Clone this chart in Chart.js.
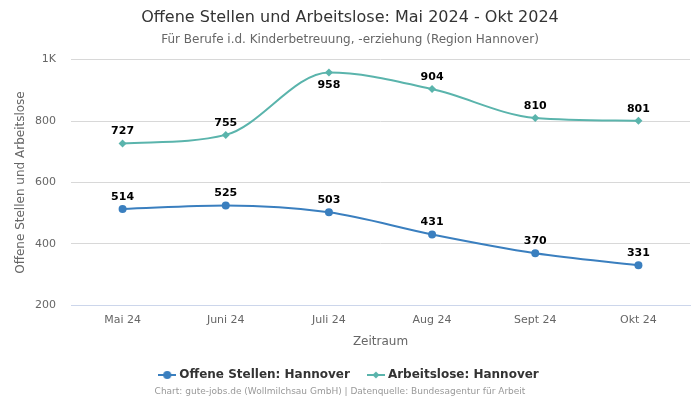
<!DOCTYPE html>
<html>
<head>
<meta charset="utf-8">
<script src="https://cdn.jsdelivr.net/npm/chart.js@4"></script>
<style>
  html, body { margin: 0; padding: 0; background: #fff; }
  #wrap { width: 700px; height: 400px; }
</style>
</head>
<body>
<div id="wrap"><canvas id="chart" width="700" height="400"></canvas></div>
<script>
const months = ['Mai 24', 'Juni 24', 'Juli 24', 'Aug 24', 'Sept 24', 'Okt 24'];
const offeneStellen = [514, 525, 503, 431, 370, 331];
const arbeitslose = [727, 755, 958, 904, 810, 801];
const yTicks = [200, 400, 600, 800, 1000];

const BLUE = '#3a7fbf';
const TEAL = '#5ab4ac';
const FONT = "'DejaVu Sans', sans-serif";

// small legend symbol: line with marker
function legendIcon(color, shape) {
  const c = document.createElement('canvas');
  c.width = 18; c.height = 10;
  const ctx = c.getContext('2d');
  ctx.strokeStyle = color;
  ctx.fillStyle = color;
  ctx.lineWidth = 2;
  ctx.beginPath();
  ctx.moveTo(0, 5); ctx.lineTo(18, 5);
  ctx.stroke();
  ctx.beginPath();
  if (shape === 'circle') {
    ctx.arc(9, 5, 4, 0, Math.PI * 2);
  } else {
    ctx.moveTo(9, 1.5); ctx.lineTo(12.5, 5); ctx.lineTo(9, 8.5); ctx.lineTo(5.5, 5);
    ctx.closePath();
  }
  ctx.fill();
  return c;
}

// value labels above points (below if there is no room at the top)
const valueLabels = {
  id: 'valueLabels',
  afterDatasetsDraw(chart) {
    const ctx = chart.ctx;
    ctx.save();
    ctx.font = 'bold 11px ' + FONT;
    ctx.fillStyle = '#000';
    ctx.textAlign = 'center';
    ctx.textBaseline = 'middle';
    chart.data.datasets.forEach((ds, i) => {
      chart.getDatasetMeta(i).data.forEach((pt, j) => {
        let y = pt.y - 12;
        if (pt.y - 20 < chart.chartArea.top) y = pt.y + 13;
        ctx.fillText(ds.data[j], pt.x, y);
      });
    });
    ctx.restore();
  }
};

const credit = {
  id: 'credit',
  afterDraw(chart) {
    const ctx = chart.ctx;
    ctx.save();
    ctx.font = '9px ' + FONT;
    ctx.fillStyle = '#999';
    ctx.textAlign = 'center';
    ctx.textBaseline = 'middle';
    ctx.fillText('Chart: gute-jobs.de (Wollmilchsau GmbH) | Datenquelle: Bundesagentur für Arbeit', 340, 392);
    ctx.restore();
  }
};

new Chart(document.getElementById('chart'), {
  type: 'line',
  data: {
    labels: months,
    datasets: [
      {
        label: 'Offene Stellen: Hannover',
        data: offeneStellen,
        borderColor: BLUE,
        backgroundColor: BLUE,
        borderWidth: 2,
        pointStyle: 'circle',
        pointRadius: 4,
        pointBorderWidth: 0,
        pointHoverRadius: 4,
        cubicInterpolationMode: 'monotone',
        legendIcon: legendIcon(BLUE, 'circle')
      },
      {
        label: 'Arbeitslose: Hannover',
        data: arbeitslose,
        borderColor: TEAL,
        backgroundColor: TEAL,
        borderWidth: 2,
        pointStyle: 'rectRot',
        pointRadius: 4,
        pointBorderWidth: 0,
        pointHoverRadius: 4,
        cubicInterpolationMode: 'monotone',
        legendIcon: legendIcon(TEAL, 'diamond')
      }
    ]
  },
  options: {
    responsive: false,
    animation: false,
    layout: { padding: { left: 10, right: 10, top: 0, bottom: 9 } },
    plugins: {
      title: {
        display: true,
        text: 'Offene Stellen und Arbeitslose: Mai 2024 - Okt 2024',
        color: '#333',
        font: { family: FONT, size: 16, weight: 'normal' },
        padding: { top: 8, bottom: 5 }
      },
      subtitle: {
        display: true,
        text: 'Für Berufe i.d. Kinderbetreuung, -erziehung (Region Hannover)',
        color: '#666',
        font: { family: FONT, size: 12 },
        padding: { bottom: 13 }
      },
      legend: {
        position: 'bottom',
        labels: {
          color: '#333',
          font: { family: FONT, size: 12, weight: 'bold' },
          usePointStyle: true,
          padding: 20,
          generateLabels(chart) {
            return chart.data.datasets.map((ds, i) => ({
              text: ds.label,
              pointStyle: ds.legendIcon,
              fontColor: '#333',
              datasetIndex: i,
              hidden: false,
              lineWidth: 0
            }));
          }
        }
      },
      tooltip: { enabled: false }
    },
    scales: {
      x: {
        offset: true,
        grid: { display: false, drawTicks: false },
        border: { color: '#ccd6eb' },
        ticks: { color: '#666', font: { family: FONT, size: 11 }, padding: 8 },
        title: { display: true, text: 'Zeitraum', color: '#666', font: { family: FONT, size: 12 }, padding: { top: 0, bottom: 0 } }
      },
      y: {
        min: 200,
        max: 1000,
        afterBuildTicks(axis) { axis.ticks = yTicks.map(v => ({ value: v })); },
        afterFit(axis) { axis.width = 61; },
        grid: { color: '#d8d8d8', drawTicks: false },
        border: { display: false },
        ticks: {
          color: '#666',
          font: { family: FONT, size: 11 },
          padding: 15,
          callback: v => (v >= 1000 ? (v / 1000) + 'K' : v)
        },
        title: { display: true, text: 'Offene Stellen und Arbeitslose', color: '#666', font: { family: FONT, size: 12 } }
      }
    }
  },
  plugins: [valueLabels, credit]
});
</script>
</body>
</html>
